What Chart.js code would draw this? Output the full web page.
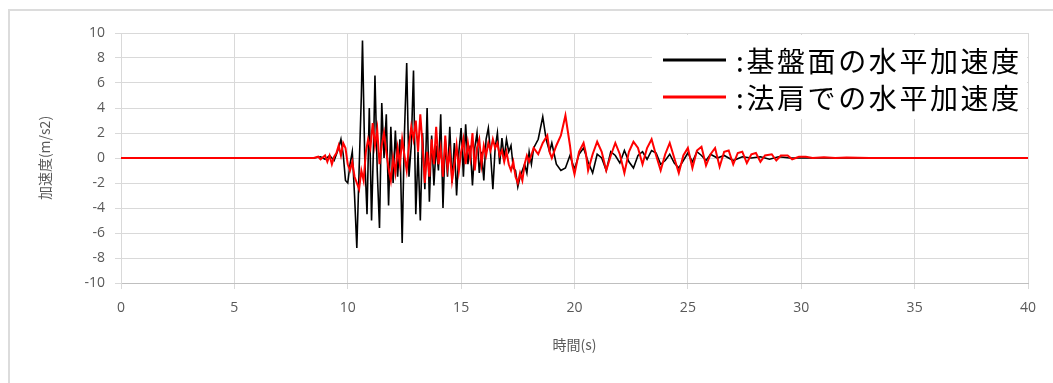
<!DOCTYPE html>
<html>
<head>
<meta charset="utf-8">
<script src="https://cdn.jsdelivr.net/npm/chart.js@4.4.0/dist/chart.umd.min.js"></script>
<style>
html,body{margin:0;padding:0;background:#fff;}
#wrap{position:relative;width:1053px;height:383px;overflow:hidden;}
#frame{position:absolute;left:8px;top:9px;width:1100px;height:420px;border:2px solid #dcdcdc;box-sizing:border-box;}
canvas{position:absolute;left:0;top:0;}
</style>
</head>
<body>
<div id="wrap"><div id="frame"></div><canvas id="c" width="1053" height="383"></canvas></div>
<script>
// series names (legend) and axis labels
const seriesNames = [':基盤面の水平加速度', ':法肩での水平加速度'];
const xTitle = '時間(s)';
const yTitle = '加速度(m/s2)';

// base (black) - time [s] / acceleration [m/s2]
const baseTime = [0,8.5,8.8,9.0,9.2,9.4,9.6,9.7,9.8,9.9,10.0,10.1,10.2,10.3,10.4,10.5,10.6,10.65,10.75,10.85,10.95,11.05,11.15,11.2,11.3,11.4,11.5,11.6,11.7,11.8,11.9,12.0,12.1,12.2,12.3,12.4,12.5,12.6,12.7,12.8,12.9,13.0,13.1,13.2,13.3,13.4,13.5,13.6,13.7,13.8,13.9,14.0,14.1,14.2,14.3,14.4,14.5,14.6,14.7,14.8,14.9,15.0,15.1,15.2,15.3,15.4,15.5,15.6,15.7,15.8,15.9,16.0,16.1,16.2,16.3,16.4,16.5,16.6,16.7,16.8,16.9,17.0,17.1,17.2,17.3,17.4,17.5,17.6,17.8,17.9,18.0,18.1,18.2,18.4,18.6,18.75,18.9,19.0,19.2,19.4,19.6,19.8,20.0,20.2,20.4,20.6,20.8,21.0,21.2,21.4,21.6,21.8,22.0,22.2,22.4,22.6,22.8,23.0,23.2,23.4,23.6,23.8,24.0,24.2,24.4,24.6,24.8,25.0,25.2,25.4,25.6,25.8,26.0,26.3,26.6,27.0,27.4,27.8,28.2,28.6,29.0,29.5,30,40];
const baseAcc = [0,0,0.1,-0.1,0.2,-0.2,0.8,1.5,0.3,-1.8,-2.0,-0.5,0.5,-3,-7.2,-1,5,9.4,0,-4.5,4,-5,2,6.6,-1,-5.6,4.4,0,3.5,-3.8,2.5,-2,2.2,-1.5,1.5,-6.8,2,7.6,-1.5,1,7.0,-4.5,0.5,-5.0,2,-2.5,4.0,-3.5,1.8,-2.2,1,-1,3.5,-4.0,1.5,-1.5,2.5,-2.0,1.2,-3.0,0.5,2.4,-1.5,2.7,-0.5,1.0,-2.2,0.8,2.0,-1.2,0.5,-1.8,1.5,2.4,0.3,-2.5,0.8,2.0,-0.5,1.6,0.0,1.5,0.5,1.0,-0.8,-1.0,-2.3,-1.5,-0.5,-1.2,0.5,-0.5,0.8,1.5,3.3,1.5,0.5,1.2,-0.5,-1.0,-0.8,0.2,-0.9,0.3,0.8,-0.3,-1.2,0.3,0.0,-1.0,0.5,0.2,-0.4,0.6,-0.3,-0.8,0.2,0.5,-0.1,0.6,0.4,-0.5,-0.2,0.3,-0.4,-0.8,-0.2,0.4,-0.3,0.5,0.2,-0.2,0.3,0.0,0.2,-0.2,0.1,0.0,0.1,-0.1,0.1,0.0,0,0];

// slope shoulder (red)
const shoulderTime = [0,8.5,8.7,8.8,9.0,9.1,9.2,9.3,9.4,9.5,9.6,9.7,9.8,9.9,10.0,10.1,10.2,10.3,10.4,10.5,10.6,10.7,10.8,10.9,11.0,11.1,11.2,11.3,11.4,11.5,11.6,11.7,11.8,11.9,12.0,12.1,12.2,12.3,12.4,12.5,12.6,12.7,12.8,12.9,13.0,13.1,13.2,13.3,13.4,13.5,13.6,13.7,13.8,13.9,14.0,14.1,14.2,14.3,14.4,14.5,14.6,14.7,14.8,14.9,15.0,15.1,15.2,15.3,15.4,15.5,15.6,15.7,15.8,15.9,16.0,16.1,16.2,16.3,16.4,16.5,16.6,16.7,16.8,16.9,17.0,17.1,17.2,17.3,17.4,17.5,17.6,17.7,17.8,17.9,18.0,18.2,18.4,18.6,18.8,18.9,19.0,19.2,19.4,19.6,19.8,19.9,20.0,20.2,20.4,20.5,20.6,20.8,21.0,21.2,21.4,21.6,21.8,22.0,22.2,22.4,22.6,22.8,23.0,23.2,23.4,23.6,23.8,24.0,24.2,24.4,24.6,24.8,25.0,25.2,25.4,25.6,25.8,26.0,26.2,26.4,26.6,26.8,27.0,27.2,27.4,27.6,27.8,28.0,28.2,28.4,28.7,28.9,29.1,29.4,29.6,29.9,30.2,30.5,31,31.5,32,33,40];
const shoulderAcc = [0,0,0.1,-0.1,0.2,-0.3,0.2,-0.5,0.1,0.4,1.0,0.2,1.2,0.8,-0.5,-1.0,-0.3,-1.5,-2.0,-2.5,-1.0,-1.8,0.5,1.5,0.8,2.8,1.0,2.3,-0.5,1.0,2.0,0.5,-0.8,-1.8,0,-1.2,0.8,-0.5,1.5,0.2,-1.0,1.0,2.5,1.5,3.0,0.5,3.5,1.0,-2.0,0.5,-1.5,1.5,-0.5,2.5,-0.5,0.8,-1.5,1.8,-0.8,0.5,-1.8,-0.5,1.0,-1.0,0.5,1.5,-0.5,1.2,0.0,2.0,-1.0,0.8,1.5,-0.5,1.0,0.2,1.2,0.6,1.5,0.8,1.2,0.2,0.6,-0.3,0.5,-0.5,-1.0,-0.3,-1.5,-2.0,-1.2,-1.8,-0.5,0.2,-0.3,0.8,0.3,1.2,1.8,0.5,0.0,1.0,1.8,3.4,1.0,-0.5,-1.3,0.5,1.2,0.4,-1.0,0.3,1.3,0.5,-1.0,0.2,1.2,0.3,-1.2,0.5,1.3,0.8,-0.5,0.8,1.5,0.2,-1.0,0.3,1.2,0.0,-1.2,0.2,0.8,-0.8,0.6,0.9,-0.6,0.3,0.8,-0.7,0.5,0.6,-0.5,0.4,0.5,-0.4,0.3,0.4,-0.3,0.2,0.3,-0.2,0.2,0.2,-0.1,0.1,0.1,0.0,0.05,0,0.03,0,0];

const seriesColors = ['#000000', '#ff0000'];

const toXY = (t, v) => t.map((x, i) => ({x: x, y: v[i]}));

const legendPlugin = {
  id: 'inlineLegend',
  afterDatasetsDraw(chart){
    const ctx = chart.ctx, a = chart.chartArea;
    ctx.save();
    ctx.fillStyle = '#fff';
    ctx.fillRect(a.right - 376, a.top + 2, 375, 84);
    ctx.font = '28px "Noto Sans CJK JP"';
    ctx.letterSpacing = '2.6px';
    ctx.textBaseline = 'middle';
    seriesNames.forEach((name, i) => {
      const y = a.top + 27 + i * 37;
      ctx.strokeStyle = seriesColors[i];
      ctx.lineWidth = 3;
      ctx.beginPath();
      ctx.moveTo(a.right - 365, y);
      ctx.lineTo(a.right - 302, y);
      ctx.stroke();
      ctx.fillStyle = '#000';
      ctx.fillText(name, a.right - 292, y + 1);
    });
    ctx.restore();
  }
};

const tickFont = {family: '"Open Sans", "Noto Sans CJK JP"', size: 14};

new Chart(document.getElementById('c'), {
  type: 'line',
  data: {
    datasets: [
      {label: seriesNames[0], data: toXY(baseTime, baseAcc), borderColor: seriesColors[0], borderWidth: 1.6, pointRadius: 0, order: 2},
      {label: seriesNames[1], data: toXY(shoulderTime, shoulderAcc), borderColor: seriesColors[1], borderWidth: 2, pointRadius: 0, order: 1}
    ]
  },
  options: {
    responsive: false,
    animation: false,
    devicePixelRatio: 1,
    layout: {padding: {left: 36, top: 33, right: 25, bottom: 25}},
    plugins: {legend: {display: false}, tooltip: {enabled: false}},
    scales: {
      x: {
        type: 'linear', min: 0, max: 40,
        ticks: {stepSize: 5, color: '#595959', font: tickFont, padding: 11, maxRotation: 0},
        grid: {color: '#d9d9d9', tickLength: 6},
        border: {color: '#bfbfbf'},
        title: {display: true, text: xTitle, color: '#595959', font: {family: '"Noto Sans CJK JP"', size: 14}, padding: {top: 6, bottom: 5}},
        afterFit(scale){ scale.height = 75; }
      },
      y: {
        min: -10, max: 10,
        ticks: {stepSize: 2, color: '#595959', font: tickFont, padding: 10},
        grid: {color: '#d9d9d9', tickLength: 6},
        border: {color: '#d9d9d9'},
        title: {display: true, text: yTitle, color: '#595959', font: {family: '"Noto Sans CJK JP"', size: 14}, padding: {top: 0, bottom: 4}},
        afterFit(scale){ scale.width = 85; }
      }
    }
  },
  plugins: [legendPlugin]
});
</script>
</body>
</html>
